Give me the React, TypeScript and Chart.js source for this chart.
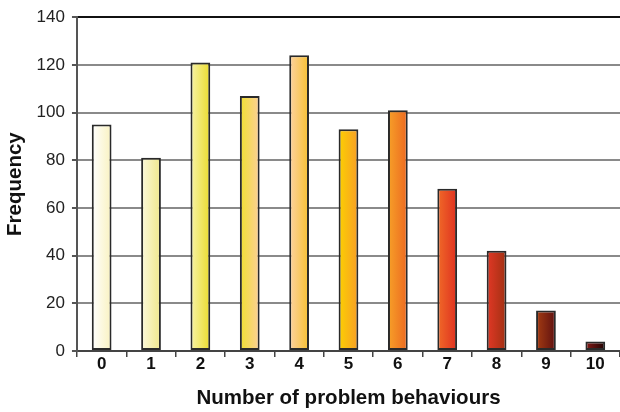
import React, { useEffect, useRef } from "react";
import { Chart, registerables } from "chart.js";

Chart.register(...registerables);

const categories = ["0", "1", "2", "3", "4", "5", "6", "7", "8", "9", "10"];
const frequencies = [95, 81, 121, 107, 124, 93, 101, 68, 42, 17, 4];
const yTicks = [0, 20, 40, 60, 80, 100, 120, 140];
const gradientLeft = [
  "#ffffff", "#fbf8dc", "#f6f2a8", "#efe030", "#fdd2a2", "#fcd000",
  "#f7a028", "#f06a28", "#e23826", "#a43c12", "#861c18",
];
const gradientRight = [
  "#f9f2c0", "#f0e78a", "#ebdc2c", "#fccf98", "#f7c030", "#f79e28",
  "#ec6820", "#df3020", "#a03012", "#5e1010", "#1e0202",
];

const FONT = "'Liberation Sans', Arial, Helvetica, sans-serif";

export default function App() {
  const canvasRef = useRef<HTMLCanvasElement | null>(null);

  useEffect(() => {
    document.body.style.margin = "0";
    const canvas = canvasRef.current;
    if (!canvas) return;

    const chart = new Chart(canvas, {
      type: "bar",
      data: {
        labels: categories,
        datasets: [
          {
            data: frequencies,
            backgroundColor: (ctx: any) => {
              const c = ctx.chart;
              const xs = c.scales && c.scales.x;
              const i = ctx.dataIndex;
              if (!xs || i === undefined || !c.chartArea) return gradientLeft[i ?? 0];
              const center = xs.getPixelForValue(i);
              const half = (xs.width / categories.length) * 0.4 / 2;
              const g = c.ctx.createLinearGradient(center - half, 0, center + half, 0);
              g.addColorStop(0, gradientLeft[i]);
              g.addColorStop(1, gradientRight[i]);
              return g;
            },
            borderColor: "#2a2a2a",
            borderWidth: 2,
            borderSkipped: false,
            categoryPercentage: 0.8,
            barPercentage: 0.5,
          },
        ],
      },
      options: {
        responsive: true,
        maintainAspectRatio: false,
        animation: false,
        layout: { padding: { top: 17, right: -2, left: 3, bottom: 1 } },
        plugins: {
          legend: { display: false },
          tooltip: { enabled: false },
        },
        scales: {
          x: {
            grid: {
              drawOnChartArea: false,
              drawTicks: true,
              tickLength: 6,
              color: "#444444",
              lineWidth: 1.5,
              offset: true,
            },
            border: { color: "#444444", width: 2 },
            ticks: {
              color: "#111111",
              font: { family: FONT, size: 17, weight: "bold" },
              padding: -3,
            },
            title: {
              display: true,
              text: "Number of problem behaviours",
              color: "#111111",
              font: { family: FONT, size: 20.5, weight: "bold" },
              padding: { top: 15, bottom: 0 },
            },
          },
          y: {
            min: 0,
            max: 140,
            afterBuildTicks: (axis: any) => {
              axis.ticks = yTicks.map((v) => ({ value: v }));
            },
            grid: {
              color: (ctx: any) => (ctx.tick && ctx.tick.value === 140 ? "#111111" : "#8a8a8a"),
              lineWidth: 2,
              tickLength: 5,
              tickColor: "#555555",
            },
            border: { color: "#555555", width: 2 },
            ticks: {
              color: "#222222",
              font: { family: FONT, size: 17 },
              padding: 7,
            },
            title: {
              display: true,
              text: "Frequency",
              color: "#111111",
              font: { family: FONT, size: 20.5, weight: "bold" },
              padding: { top: 0, bottom: 2 },
            },
          },
        },
      },
    });

    return () => chart.destroy();
  }, []);

  return (
    <div style={{ width: 620, height: 412, position: "relative" }}>
      <canvas ref={canvasRef} />
    </div>
  );
}
